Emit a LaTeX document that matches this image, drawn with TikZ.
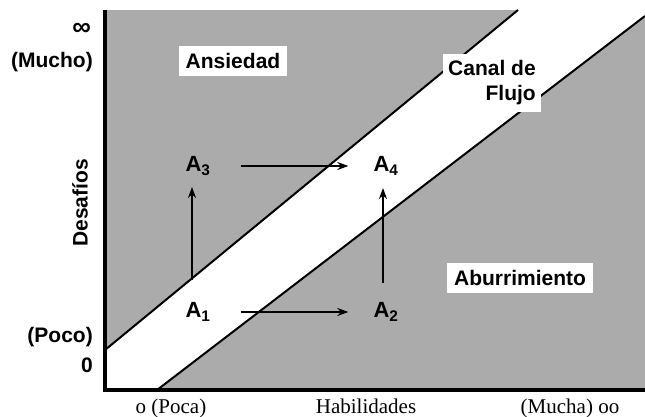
\documentclass[tikz,border=0pt]{standalone}
\usepackage{fontspec}
\setmainfont{Liberation Sans}
\newfontfamily\seriffont{Liberation Serif}
\usetikzlibrary{arrows.meta}

\begin{document}
\begin{tikzpicture}[x=1pt,y=-1pt,>={Stealth[length=11pt,width=8pt]},
  rotulo/.style={font=\fontsize{21}{25}\selectfont\bfseries,inner sep=0pt},
  zona/.style={rotulo,fill=white,inner xsep=7pt,inner ysep=7pt},
  estado/.style={font=\fontsize{22}{24}\selectfont\bfseries,inner sep=1pt},
  inferior/.style={font=\fontsize{21}{24}\selectfont\seriffont,inner sep=0pt,anchor=base},
  flecha/.style={->,line width=2pt},
  eje/.style={line width=3.5pt},
  borde/.style={line width=2pt}]
\useasboundingbox (0,0) rectangle (645,417);
% ---------- fondo gris y canal de flujo ----------
\fill[black!33] (105,10) rectangle (645,390);
\fill[white] (105,350) -- (518,10) -- (645,10) -- (645,16) -- (157,390) -- (105,390) -- cycle;
\draw[borde] (105,350) -- (518,10);
\draw[borde] (157,390) -- (645,16);
% ---------- ejes ----------
\draw[eje] (105,10) -- (105,390) -- (645,390);
% ---------- rotulos de los ejes ----------
\node[rotulo,anchor=east,font=\fontsize{26}{26}\selectfont\bfseries] (infinito) at (91,29) {∞};
\node[rotulo,anchor=east] (mucho) at (93,62) {(Mucho)};
\node[rotulo,anchor=east] (poco) at (93,337) {(Poco)};
\node[rotulo,anchor=east] (cero) at (93,365) {0};
\node[rotulo,rotate=90] (desafios) at (80,203) {Desafíos};
\node[inferior] (poca) at (171,413) {o (Poca)};
\node[inferior] (habilidades) at (366,413) {Habilidades};
\node[inferior] (mucha) at (570,413) {(Mucha) oo};
% ---------- zonas ----------
\node[zona] (ansiedad) at (233,61) {Ansiedad};
\node[zona,align=right,inner xsep=5pt] (canal) at (492,83) {Canal de\\Flujo};
\node[zona] (aburrimiento) at (520,278) {Aburrimiento};
% ---------- estados A1 ... A4 ----------
\node[estado] (a1) at (198,312) {A\textsubscript{1}};
\node[estado] (a2) at (386,312) {A\textsubscript{2}};
\node[estado] (a3) at (198,166) {A\textsubscript{3}};
\node[estado] (a4) at (386,166) {A\textsubscript{4}};
\draw[flecha,shorten <=29pt,shorten >=24pt] (a1) -- (a2);
\draw[flecha,shorten <=29pt,shorten >=24pt] (a3) -- (a4);
\draw[flecha,shorten <=32pt,shorten >=21pt] ([xshift=-6pt]a1.center) -- ([xshift=-6pt]a3.center);
\draw[flecha,shorten <=29pt,shorten >=22pt] ([xshift=-3pt]a2.center) -- ([xshift=-3pt]a4.center);
\end{tikzpicture}
\end{document}
